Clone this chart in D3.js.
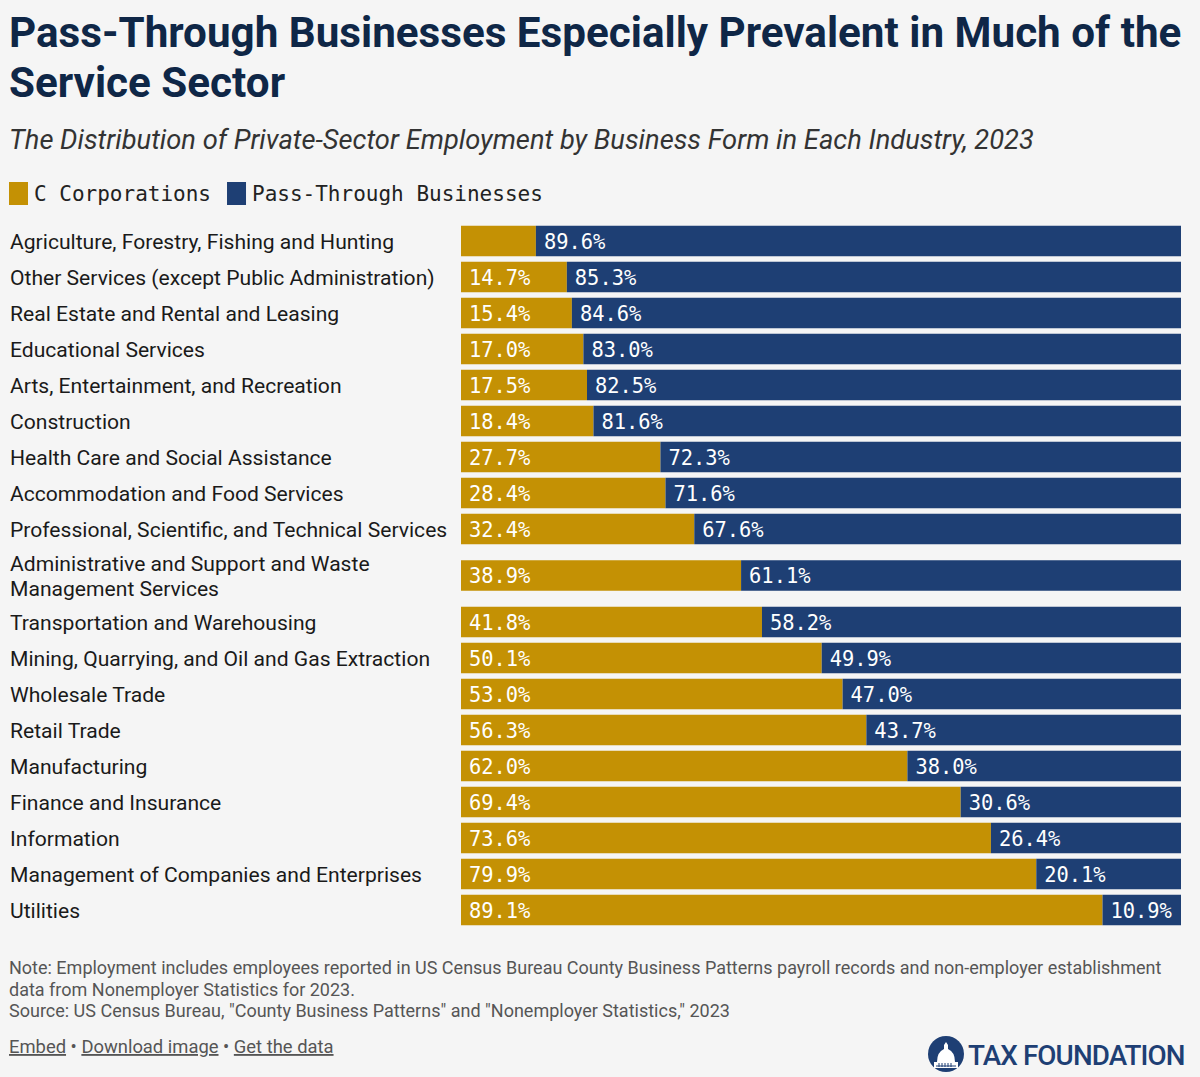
<!doctype html>
<html>

<head>
	<meta charset="utf-8">
	<title>Pass-Through Businesses</title>
	<script type="text/javascript" src="https://d3js.org/d3.v7.min.js"></script>
	<style>
		body { margin: 0; background: #f5f5f5; }
		svg { display: block; }
	</style>
</head>

<body>
	<div id="chart"></div>
	<script>
		// Data
		const industries = [
			'Agriculture, Forestry, Fishing and Hunting',
			'Other Services (except Public Administration)',
			'Real Estate and Rental and Leasing',
			'Educational Services',
			'Arts, Entertainment, and Recreation',
			'Construction',
			'Health Care and Social Assistance',
			'Accommodation and Food Services',
			'Professional, Scientific, and Technical Services',
			'Administrative and Support and Waste Management Services',
			'Transportation and Warehousing',
			'Mining, Quarrying, and Oil and Gas Extraction',
			'Wholesale Trade',
			'Retail Trade',
			'Manufacturing',
			'Finance and Insurance',
			'Information',
			'Management of Companies and Enterprises',
			'Utilities'
		];
		const cCorp = [10.4, 14.7, 15.4, 17.0, 17.5, 18.4, 27.7, 28.4, 32.4, 38.9, 41.8, 50.1, 53.0, 56.3, 62.0, 69.4, 73.6, 79.9, 89.1];
		const passThrough = [89.6, 85.3, 84.6, 83.0, 82.5, 81.6, 72.3, 71.6, 67.6, 61.1, 58.2, 49.9, 47.0, 43.7, 38.0, 30.6, 26.4, 20.1, 10.9];
		const seriesNames = ['C Corporations', 'Pass-Through Businesses'];

		const colors = ['#c49104', '#1e3f74'];
		const W = 1200, H = 1077;
		const mono = '"DejaVu Sans Mono", "Liberation Mono", monospace';
		const sans = 'Roboto, "Noto Sans", sans-serif';

		const svg = d3.select('#chart').append('svg')
			.attr('width', W)
			.attr('height', H);

		// Title and subtitle
		svg.append('text')
			.attr('x', 9).attr('y', 47)
			.attr('font-family', sans).attr('font-weight', 700)
			.attr('font-size', '42.2px').attr('fill', '#0f2747')
			.text('Pass-Through Businesses Especially Prevalent in Much of the');
		svg.append('text')
			.attr('x', 9).attr('y', 97)
			.attr('font-family', sans).attr('font-weight', 700)
			.attr('font-size', '42.2px').attr('fill', '#0f2747')
			.text('Service Sector');
		svg.append('text')
			.attr('x', 9).attr('y', 149)
			.attr('font-family', sans).attr('font-style', 'italic')
			.attr('font-size', '27.3px').attr('fill', '#333')
			.text('The Distribution of Private-Sector Employment by Business Form in Each Industry, 2023');

		// Legend
		const legend = svg.append('g').attr('transform', 'translate(9,182)');
		let lx = 0;
		seriesNames.forEach((name, i) => {
			legend.append('rect')
				.attr('x', lx).attr('y', 0)
				.attr('width', 19).attr('height', 23)
				.attr('fill', colors[i]);
			const t = legend.append('text')
				.attr('x', lx + 25).attr('y', 19)
				.attr('font-family', mono).attr('font-size', '21px')
				.attr('fill', '#222')
				.text(name);
			lx += 25 + t.node().getComputedTextLength() + 16;
		});

		// Labels: wrap to fit the label column
		const labelWidth = 445;
		const labelSize = '21.1px';
		const measure = svg.append('text').attr('font-family', sans).attr('font-size', labelSize);
		function wrap(str) {
			const words = str.split(' ');
			const lines = [];
			let cur = '';
			words.forEach(w => {
				const test = cur ? cur + ' ' + w : w;
				measure.text(test);
				if (measure.node().getComputedTextLength() > labelWidth && cur) {
					lines.push(cur);
					cur = w;
				} else {
					cur = test;
				}
			});
			lines.push(cur);
			return lines;
		}
		const labelLines = industries.map(wrap);
		measure.remove();

		// Row layout: one-line rows are 36px, two-line rows 57px
		const rowH = labelLines.map(l => l.length === 1 ? 36 : 57);
		const rowTop = [];
		let acc = 0;
		rowH.forEach(h => { rowTop.push(acc); acc += h; });

		const y = d3.scaleLinear().domain([0, acc]).range([223, 223 + acc]);
		const x = d3.scaleLinear().domain([0, 100]).range([461, 1181]);
		const barH = 30.5;

		const rows = svg.append('g').selectAll('g')
			.data(industries)
			.join('g')
			.attr('transform', (d, i) => 'translate(0,' + y(rowTop[i] + rowH[i] / 2) + ')');

		rows.each(function (d, i) {
			const g = d3.select(this);
			const lines = labelLines[i];
			const lh = 25;
			lines.forEach((line, j) => {
				g.append('text')
					.attr('x', 10)
					.attr('y', 7.5 + (j - (lines.length - 1) / 2) * lh)
					.attr('font-family', sans).attr('font-size', labelSize)
					.attr('fill', '#1a1a1a')
					.text(line);
			});

			const segs = [
				{ x0: 0, x1: cCorp[i], v: cCorp[i], c: colors[0] },
				{ x0: cCorp[i], x1: cCorp[i] + passThrough[i], v: passThrough[i], c: colors[1] }
			];
			segs.forEach(s => {
				g.append('rect')
					.attr('x', x(s.x0))
					.attr('y', -barH / 2)
					.attr('width', Math.min(x(s.x1), x(100)) - x(s.x0))
					.attr('height', barH)
					.attr('fill', s.c);
				const t = g.append('text')
					.attr('x', x(s.x0) + 8)
					.attr('y', 7.5)
					.attr('font-family', mono).attr('font-size', '20.4px')
					.attr('fill', '#fff')
					.text(s.v.toFixed(1) + '%');
				// only keep the label if it fits inside its segment
				if (t.node().getComputedTextLength() + 14 > x(s.x1) - x(s.x0)) t.remove();
			});
		});

		// Notes
		const notes = [
			'Note: Employment includes employees reported in US Census Bureau County Business Patterns payroll records and non-employer establishment',
			'data from Nonemployer Statistics for 2023.',
			'Source: US Census Bureau, "County Business Patterns" and "Nonemployer Statistics," 2023'
		];
		notes.forEach((n, i) => {
			svg.append('text')
				.attr('x', 9).attr('y', 974 + i * 21.5)
				.attr('font-family', sans).attr('font-size', '18px')
				.attr('fill', '#555')
				.text(n);
		});

		// Footer links
		const links = svg.append('text')
			.attr('x', 9).attr('y', 1053)
			.attr('font-family', sans).attr('font-size', '18.4px')
			.attr('fill', '#555');
		links.append('tspan').attr('text-decoration', 'underline').text('Embed');
		links.append('tspan').text('  • ');
		links.append('tspan').attr('text-decoration', 'underline').text('Download image');
		links.append('tspan').text(' • ');
		links.append('tspan').attr('text-decoration', 'underline').text('Get the data');

		// Logo
		const logo = svg.append('g').attr('transform', 'translate(946,1054)');
		logo.append('circle').attr('r', 18).attr('fill', '#1e3f74');
		logo.append('path')
			.attr('d', 'M-12,14 L-12,8 L-9,8 Q-9,-2 -2,-5 L-2,-9 L0,-12 L2,-9 L2,-5 Q9,-2 9,8 L12,8 L12,14 Z')
			.attr('fill', '#fff');
		logo.append('path')
			.attr('d', 'M-10,12 L10,12 M-7,9 L-7,13 M-4,9 L-4,13 M-1,9 L-1,13 M2,9 L2,13 M5,9 L5,13')
			.attr('stroke', '#1e3f74').attr('stroke-width', 1);
		svg.append('text')
			.attr('x', 968).attr('y', 1065)
			.attr('font-family', sans).attr('font-size', '27.8px')
			.attr('font-weight', 500)
			.attr('letter-spacing', '-0.9px')
			.attr('fill', '#1e3f74')
			.text('TAX FOUNDATION');
	</script>
</body>

</html>
